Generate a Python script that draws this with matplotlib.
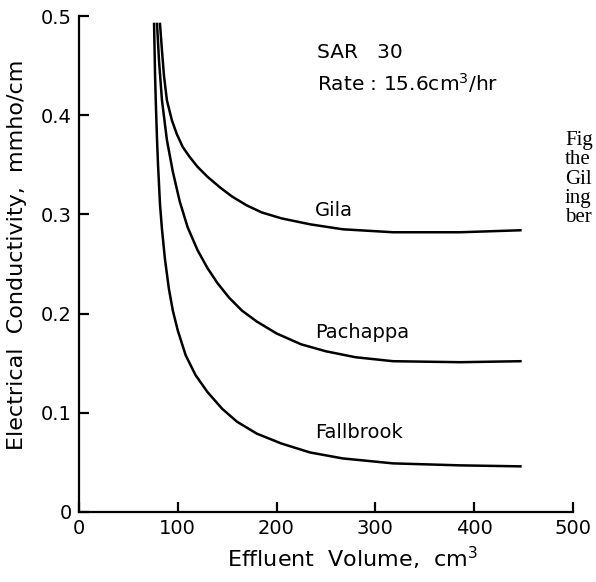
import matplotlib.pyplot as plt

# curves (effluent volume cm3, EC mmho/cm)
gila_x = [82, 84, 86, 89, 94, 99, 105, 112, 120, 130, 143, 155, 170, 185, 205, 234, 267, 318, 386, 447]
gila_y = [0.492, 0.465, 0.44, 0.415, 0.395, 0.381, 0.368, 0.358, 0.348, 0.338, 0.327, 0.318,
          0.309, 0.302, 0.296, 0.290, 0.285, 0.282, 0.282, 0.284]

pach_x = [79, 81, 84, 89, 95, 102, 110, 120, 130, 140, 152, 165, 180, 200, 225, 250, 280, 318, 386, 447]
pach_y = [0.492, 0.455, 0.415, 0.375, 0.343, 0.313, 0.287, 0.264, 0.246, 0.231, 0.216, 0.203,
          0.192, 0.180, 0.169, 0.162, 0.156, 0.152, 0.151, 0.152]

fall_x = [76, 77, 78, 79, 80, 82, 84, 87, 91, 95, 100, 108, 118, 130, 145, 160, 180, 205, 234, 267,
          318, 386, 447]
fall_y = [0.492, 0.44, 0.405, 0.375, 0.35, 0.31, 0.285, 0.255, 0.225, 0.203, 0.183, 0.158, 0.138,
          0.121, 0.104, 0.091, 0.079, 0.069, 0.060, 0.054, 0.049, 0.047, 0.046]

labels = ['Gila', 'Pachappa', 'Fallbrook']
label_y = [0.304, 0.181, 0.080]

fig = plt.figure(figsize=(5.96, 5.82), dpi=100)
ax = fig.add_axes([0.1326, 0.1203, 0.8284, 0.8522])

for xs, ys in [(gila_x, gila_y), (pach_x, pach_y), (fall_x, fall_y)]:
    ax.plot(xs, ys, color='black', linewidth=1.8, solid_joinstyle='round')

for lab, ly in zip(labels, label_y):
    ax.text(239, ly, lab, fontsize=14, va='center', ha='left')

ax.text(241, 0.463, 'SAR   30', fontsize=14.5, va='center', ha='left')
ax.text(241, 0.432, r'Rate : 15.6cm$^{3}$/hr', fontsize=14.5, va='center', ha='left')

ax.set_xlim(0, 500)
ax.set_ylim(0, 0.5)
ax.set_xticks([0, 100, 200, 300, 400, 500])
ax.set_yticks([0, 0.1, 0.2, 0.3, 0.4, 0.5])
ax.set_yticklabels(['0', '0.1', '0.2', '0.3', '0.4', '0.5'])
ax.spines['top'].set_visible(False)
ax.spines['right'].set_visible(False)
for s in ['left', 'bottom']:
    ax.spines[s].set_linewidth(1.6)
ax.tick_params(direction='in', length=7, width=1.6, labelsize=14, pad=5)
ax.set_xlabel(r'Effluent  Volume,  cm$^{3}$', fontsize=16)
ax.set_ylabel('Electrical  Conductivity,  mmho/cm', fontsize=16)
ax.xaxis.set_label_coords(0.553, -0.067)
ax.yaxis.set_label_coords(-0.105, 0.518)

# cropped caption text at right edge
for i, frag in enumerate(['Fig', 'the', 'Gil', 'ing', 'ber']):
    fig.text(0.948, 1 - (140 + i * 19.5) / 582, frag, fontsize=15,
             family='Liberation Serif', va='center', ha='left')

fig.savefig('out.png', dpi=100)
